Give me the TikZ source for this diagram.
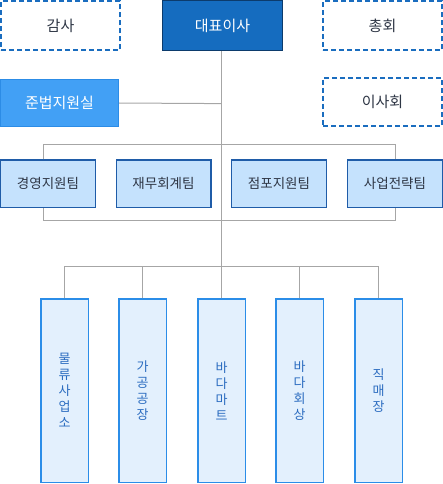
\documentclass[tikz,border=0pt]{standalone}
\usepackage{fontspec}
\setmainfont{Noto Sans CJK KR}
\definecolor{dashblue}{HTML}{1A6DBF}
\definecolor{ceofill}{HTML}{156CBF}
\definecolor{ceoborder}{HTML}{0C3B6C}
\definecolor{compfill}{HTML}{42A0F5}
\definecolor{compborder}{HTML}{2C8CE6}
\definecolor{teamfill}{HTML}{C5E2FD}
\definecolor{teamborder}{HTML}{1F5CA8}
\definecolor{tallfill}{HTML}{E3F0FD}
\definecolor{tallborder}{HTML}{2B8DE8}
\definecolor{talltext}{HTML}{2B6CC0}
\definecolor{darktext}{HTML}{2E3645}
\definecolor{linegray}{HTML}{A6A6A6}
\tikzset{
  dashbox/.style={draw=dashblue, line width=2pt, dash pattern=on 5pt off 3pt, fill=white,
    minimum width=119pt, minimum height=49pt, inner sep=0pt, text=darktext, font=\fontsize{15}{18}\selectfont},
  ceobox/.style={draw=ceoborder, line width=1pt, fill=ceofill, minimum width=120pt, minimum height=50pt,
    inner sep=0pt, text=white, font=\fontsize{15}{18}\selectfont},
  compbox/.style={draw=compborder, line width=1pt, fill=compfill, minimum width=118pt, minimum height=47pt,
    inner sep=0pt, text=white, font=\fontsize{15}{18}\selectfont},
  teambox/.style={draw=teamborder, line width=1.2pt, fill=teamfill, minimum width=94.8pt, minimum height=47.8pt,
    inner sep=0pt, text=darktext, font=\fontsize{13.5}{16}\selectfont},
  tallbox/.style={draw=tallborder, line width=1.2pt, fill=tallfill, minimum width=47.2pt, minimum height=183.8pt,
    inner sep=0pt, text=talltext, align=center, font=\fontsize{13}{16}\selectfont},
  conn/.style={draw=linegray, line width=1pt}
}
\begin{document}
\begin{tikzpicture}[x=1pt,y=-1pt]
\useasboundingbox (0,0) rectangle (443,484);
% connectors first (behind boxes)
\coordinate (top) at (221,51);
\coordinate (hub1) at (221,103.6);
\coordinate (bl) at (43,144.7);
\coordinate (br) at (395,144.7);
\coordinate (cl) at (43,220.7);
\coordinate (cr) at (395,220.7);
\coordinate (hub2) at (221,144.7);
\coordinate (hub3) at (221,220.7);
\coordinate (hub4) at (221,266);

\node[dashbox] (gamsa) at (60.5,26) {감사};
\node[ceobox] (ceo) at (222.5,25.5) {대표이사};
\node[dashbox] (chonghoe) at (382.5,26) {총회};
\node[compbox] (comp) at (59.5,103) {준법지원실};
\node[dashbox, minimum height=48pt] (isahoe) at (382.5,102) {이사회};

\node[teambox] (t1) at (48,183.8) {경영지원팀};
\node[teambox] (t2) at (163.5,183.8) {재무회계팀};
\node[teambox] (t3) at (279,183.8) {점포지원팀};
\node[teambox] (t4) at (395,183.8) {사업전략팀};

\node[tallbox] (s1) at (64.5,390.8) {물\\류\\사\\업\\소};
\node[tallbox] (s2) at (142.5,390.8) {가\\공\\공\\장};
\node[tallbox] (s3) at (221.5,390.8) {바\\다\\마\\트};
\node[tallbox] (s4) at (299.5,390.8) {바\\다\\회\\상};
\node[tallbox] (s5) at (378.5,390.8) {직\\매\\장};

\draw[conn] (ceo.south -| top) -- (hub4);
\draw[conn] (comp.east) -- (hub1);
\draw[conn] (t1.north -| bl) -- (bl) -- (br) -- (t4.north -| br);
\draw[conn] (t1.south -| cl) -- (cl) -- (cr) -- (t4.south -| cr);
\draw[conn] (s1.north) -- (s1.north |- hub4) -- (s5.north |- hub4) -- (s5.north);
\draw[conn] (s2.north) -- (s2.north |- hub4);
\draw[conn] (s3.north) -- (s3.north |- hub4);
\draw[conn] (s4.north) -- (s4.north |- hub4);
\end{tikzpicture}
\end{document}
